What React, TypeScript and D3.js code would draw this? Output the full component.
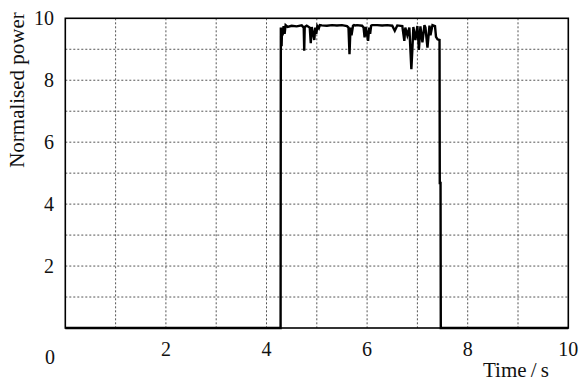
import React from "react";
import * as d3 from "d3";

// time axis (s) and normalised power samples
const timeS = [
  0, 4.28, 4.285, 4.3, 4.31, 4.32, 4.34, 4.36, 4.38, 4.42, 4.5, 4.6, 4.7, 4.74,
  4.75, 4.76, 4.8, 4.86, 4.88, 4.9, 4.95, 4.97, 4.99, 5.01, 5.04, 5.06, 5.1,
  5.2, 5.3, 5.4, 5.5, 5.6, 5.63, 5.65, 5.67, 5.69, 5.72, 5.74, 5.76, 5.8, 5.9,
  5.93, 5.95, 5.97, 6.02, 6.04, 6.06, 6.08, 6.1, 6.2, 6.3, 6.4, 6.5, 6.55, 6.6,
  6.7, 6.74, 6.76, 6.8, 6.84, 6.88, 6.9, 6.92, 6.96, 7.0, 7.03, 7.06, 7.1, 7.14,
  7.16, 7.2, 7.24, 7.26, 7.3, 7.35, 7.37, 7.4, 7.44, 7.445, 7.46, 7.465, 10,
];
const power = [
  0, 0, 9.7, 9.1, 9.7, 9.45, 9.75, 9.5, 9.78, 9.72, 9.76, 9.74, 9.77, 9.7,
  8.95, 9.72, 9.76, 9.7, 9.2, 9.72, 9.3, 9.7, 9.5, 9.75, 9.68, 9.78, 9.77,
  9.76, 9.78, 9.77, 9.78, 9.75, 9.7, 8.84, 9.7, 9.45, 9.76, 9.78, 9.77, 9.78,
  9.76, 9.7, 9.38, 9.72, 9.27, 9.7, 9.5, 9.76, 9.78, 9.78, 9.77, 9.78, 9.76,
  9.6, 9.77, 9.75, 9.27, 9.7, 9.45, 9.7, 8.36, 9.0, 9.72, 9.3, 9.75, 8.98, 9.74,
  9.22, 9.78, 9.7, 9.05, 9.76, 9.45, 9.78, 9.75, 9.4, 9.32, 9.3, 4.68, 4.68, 0,
  0,
];
const xTicks = [2, 4, 6, 8, 10];
const yTicks = [2, 4, 6, 8, 10];
const gridX = [1, 2, 3, 4, 5, 6, 7, 8, 9];
const gridY = [1, 2, 3, 4, 5, 6, 7, 8, 9];

const W = 581;
const H = 383;
const left = 65.3;
const right = 568.3;
const top = 18.3;
const bottom = 328;
const font = "'Liberation Serif', 'Times New Roman', serif";

export default function App() {
  const x = d3.scaleLinear().domain([0, 10]).range([left, right]);
  const y = d3.scaleLinear().domain([0, 10]).range([bottom, top]);
  const path = d3
    .line<number>()
    .x((_, i) => x(timeS[i]))
    .y((v) => y(v))(power);

  return (
    <svg
      width={W}
      height={H}
      style={{ position: "absolute", left: 0, top: 0, background: "#fff" }}
    >
      {gridX.map((t) => (
        <line
          key={"gx" + t}
          x1={x(t)}
          x2={x(t)}
          y1={top}
          y2={bottom}
          stroke="#555"
          strokeWidth={1}
          strokeDasharray="2,2"
        />
      ))}
      {gridY.map((v) => (
        <line
          key={"gy" + v}
          x1={left}
          x2={right}
          y1={y(v)}
          y2={y(v)}
          stroke="#555"
          strokeWidth={1}
          strokeDasharray="2,2"
        />
      ))}
      <rect
        x={left}
        y={top}
        width={right - left}
        height={bottom - top}
        fill="none"
        stroke="#000"
        strokeWidth={1.6}
      />
      <path d={path || ""} fill="none" stroke="#000" strokeWidth={2.4} />

      <g fontFamily={font} fontSize={20} fill="#111">
        {xTicks.map((t) => (
          <text key={"xt" + t} x={x(t)} y={356} textAnchor="middle">
            {t}
          </text>
        ))}
        {yTicks.map((v) => (
          <text key={"yt" + v} x={54} y={y(v) + 7} textAnchor="end">
            {v}
          </text>
        ))}
        <text x={55} y={364} textAnchor="end">
          0
        </text>
        <text x={516} y={377} textAnchor="middle" fontSize={21}>
          Time{"\u2009"}/{"\u2009"}s
        </text>
        <text
          transform="translate(24,90) rotate(-90)"
          textAnchor="middle"
          fontSize={21}
        >
          Normalised power
        </text>
      </g>
    </svg>
  );
}
